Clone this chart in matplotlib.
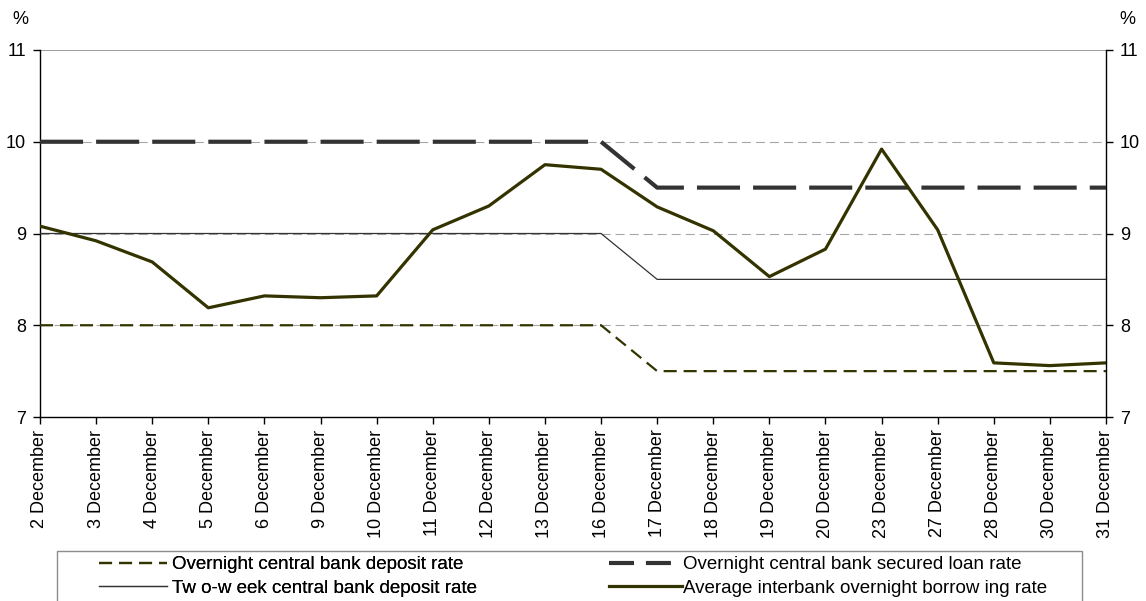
"""Daily interbank and central bank rates, December"""

import matplotlib.pyplot as plt
from matplotlib.lines import Line2D
from matplotlib.patches import Rectangle

plt.rcParams["font.family"] = ["Liberation Sans", "DejaVu Sans"]
plt.rcParams["lines.scale_dashes"] = False

days = ["2 December", "3 December", "4 December", "5 December", "6 December",
        "9 December", "10 December", "11 December", "12 December", "13 December",
        "16 December", "17 December", "18 December", "19 December", "20 December",
        "23 December", "27 December", "28 December", "30 December", "31 December"]
deposit_rate = [8.0] * 11 + [7.5] * 9
two_week_rate = [9.0] * 11 + [8.5] * 9
secured_loan_rate = [10.0] * 11 + [9.5] * 9
interbank_rate = [9.08, 8.92, 8.69, 8.19, 8.32, 8.30, 8.32, 9.04, 9.30, 9.75,
                  9.70, 9.29, 9.03, 8.53, 8.83, 9.92, 9.04, 7.59, 7.56, 7.59]
y_ticks = [7, 8, 9, 10, 11]

W, H = 1146, 601


def main():
    fig = plt.figure(figsize=(W / 100, H / 100), dpi=100)
    ax = fig.add_axes([40 / W, 1 - 417 / H, 1066 / W, 367 / H])
    x = range(len(days))

    # gridlines: solid at the top, dashed elsewhere
    for v in [8, 9, 10]:
        ax.axhline(v, color="#a6a6a6", lw=0.8, ls=(0, (6.5, 3.6)), zorder=1)
    ax.axhline(11, color="#8c8c8c", lw=1.2, zorder=1)

    l_dep, = ax.plot(x, deposit_rate, color="#333300", lw=1.6, ls=(0, (9.4, 5.0)),
                     label="Overnight central bank deposit rate", zorder=3)
    l_two, = ax.plot(x, two_week_rate, color="#333333", lw=0.9,
                     label="Tw o-w eek central bank deposit rate", zorder=3)
    l_loan, = ax.plot(x, secured_loan_rate, color="#333333", lw=3.0, ls=(0, (31, 9.4)),
                      label="Overnight central bank secured loan rate", zorder=3)
    l_ib, = ax.plot(x, interbank_rate, color="#333300", lw=2.3,
                    label="Average interbank overnight borrow ing rate", zorder=4)

    ax.set_xlim(0, len(days) - 1)
    ax.set_ylim(7, 11)
    ax.set_xticks(list(x))
    ax.set_xticklabels(days, rotation=90, fontsize=13)
    ax.set_yticks(y_ticks)
    ax.set_yticklabels([str(v) for v in y_ticks], fontsize=13)
    ax.tick_params(axis="both", direction="out", length=5, width=1, color="black",
                   right=True, labelright=True, pad=5)
    ax.tick_params(axis="x", pad=4)
    ax.spines["top"].set_visible(False)
    for side in ["left", "right", "bottom"]:
        ax.spines[side].set_color("black")
        ax.spines[side].set_linewidth(1)

    fig.text(20 / W, 1 - 20 / H, "%", fontsize=13, ha="center", va="center")
    fig.text(1127 / W, 1 - 20 / H, "%", fontsize=13, ha="center", va="center")

    # legend box, running off the bottom edge
    fig.patches.append(Rectangle((57 / W, -0.05), 1025 / W, 0.05 + 1 - 551 / H,
                                 transform=fig.transFigure, fill=False,
                                 edgecolor="#8c8c8c", lw=1))
    # two dashes then a blank gap before the label
    loan_key = Line2D([], [], color="#333333", lw=3.0, ls=(0, (18, 8.6, 18, 100)))
    opts = dict(loc="upper left", fontsize=13.5, frameon=False, borderpad=0,
                borderaxespad=0, labelspacing=0.35)
    leg1 = fig.legend([l_dep, l_two], [l_dep.get_label(), l_two.get_label()],
                      bbox_to_anchor=(99 / W, 1 - 556 / H), handlelength=3.6,
                      handletextpad=0.32, **opts)
    fig.add_artist(leg1)
    fig.legend([loan_key, l_ib], [l_loan.get_label(), l_ib.get_label()],
               bbox_to_anchor=(609 / W, 1 - 556 / H), handlelength=3.9,
               handletextpad=0.05, **opts)

    fig.savefig("out.png", dpi=100)


main()
